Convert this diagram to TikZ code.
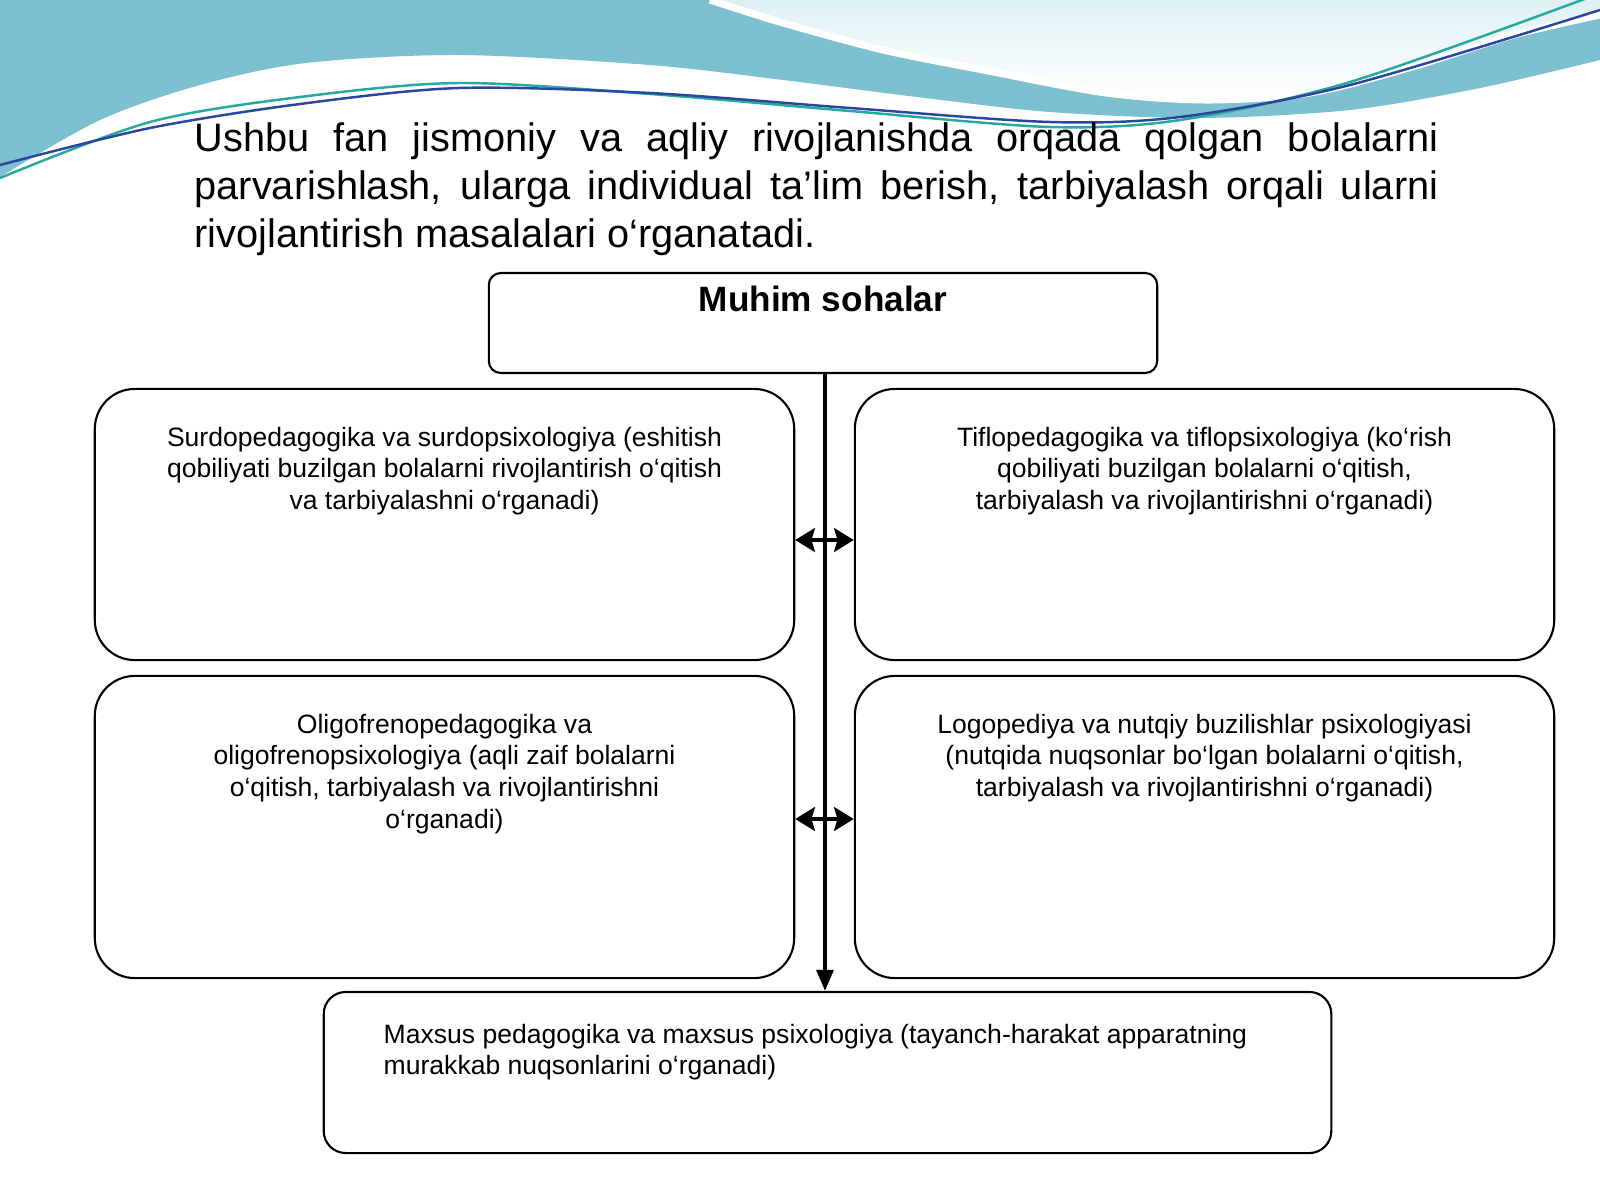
\documentclass[tikz,border=0pt]{standalone}
\usepackage{fontspec}
\setmainfont{Liberation Sans}
\usetikzlibrary{arrows.meta}

\definecolor{waveteal}{RGB}{125,192,207}
\definecolor{wavepale}{RGB}{222,240,245}
\definecolor{linegreen}{RGB}{38,170,158}
\definecolor{lineblue}{RGB}{42,70,158}

\begin{document}
\begin{tikzpicture}[x=0.01cm,y=-0.01cm,
  area box/.style={draw,rounded corners=0.4cm,line width=0.6pt,fill=white,
    inner xsep=0.1cm,inner ysep=0.38cm,font=\fontsize{7.55}{9}\selectfont},
  head box/.style={draw,rounded corners=0.12cm,line width=0.6pt,fill=white,
    inner xsep=0.1cm,inner ysep=0.13cm,font=\fontsize{10}{12}\selectfont\bfseries},
  foot box/.style={draw,rounded corners=0.22cm,line width=0.6pt,fill=white,
    inner xsep=0.6cm,inner ysep=0.32cm,font=\fontsize{7.55}{9}\selectfont},
  link/.style={line width=1pt,{Stealth[length=5.6pt,width=6.8pt,inset=1pt]}-{Stealth[length=5.6pt,width=6.8pt,inset=1pt]}}]

 \useasboundingbox (0,0) rectangle (1600,1200);
 \fill[white] (0,0) rectangle (1600,1200);

 % waves on top
 \shade[top color=wavepale,bottom color=white] plot[smooth] coordinates {(710,0) (783,23) (883,50) (983,70) (1106,93) (1208,100) (1310,93) (1412,67) (1514,35) (1600,15)} -- (1600,0) -- cycle;
 \fill[waveteal] (0,0) -- plot[smooth] coordinates {(710,0) (783,23) (883,50) (983,70) (1106,93) (1208,100) (1310,93) (1412,67) (1514,35) (1600,15)}
   -- plot[smooth] coordinates {(1600,60) (1480,88) (1350,110) (1200,118) (1050,112) (917,97) (783,80) (650,65) (459,55) (306,63) (200,85) (100,120) (0,177)} -- cycle;
 \draw[white,line width=2pt] plot[smooth] coordinates {(710,0) (783,23) (883,50) (983,70) (1106,93) (1208,100) (1310,93) (1412,67) (1514,35) (1600,15)};
 \draw[linegreen,line width=0.7pt] plot[smooth] coordinates {(0,178) (150,122) (300,97) (459,83) (650,94) (850,111) (1050,127) (1180,120) (1350,82) (1590,-3)};
 \draw[lineblue,line width=0.7pt] plot[smooth] coordinates {(0,165) (150,128) (300,104) (459,88) (650,93) (850,108) (1050,122) (1180,117) (1350,85) (1600,10)};

 % intro text
 \node[anchor=north west,inner sep=0pt,text width=12.43cm,align=justify,
   font=\fontsize{11.3}{13.66}\selectfont] (intro) at (194,122)
   {\hyphenpenalty=10000\hbadness=10000 Ushbu fan jismoniy va aqliy rivojlanishda orqada qolgan bolalarni\linebreak
    parvarishlash, ularga individual ta’lim berish, tarbiyalash orqali ularni\linebreak
    rivojlantirish masalalari o‘rganatadi.};

 % boxes
 \node[head box] (muhim) at (823,323) {\parbox[c][0.74cm][t]{6.48cm}{\centering Muhim sohalar}};
 \node[area box] (surdo) at (444.5,524.5) {\parbox[c][1.95cm][t]{6.79cm}{\centering
   Surdopedagogika va surdopsixologiya (eshitish\\
   qobiliyati buzilgan bolalarni rivojlantirish o‘qitish\\
   va tarbiyalashni o‘rganadi)}};
 \node[area box] (tiflo) at (1204.5,524.5) {\parbox[c][1.95cm][t]{6.79cm}{\centering
   Tiflopedagogika va tiflopsixologiya (ko‘rish\\
   qobiliyati buzilgan bolalarni o‘qitish,\\
   tarbiyalash va rivojlantirishni o‘rganadi)}};
 \node[area box] (oligo) at (444.5,827) {\parbox[c][2.26cm][t]{6.79cm}{\centering
   Oligofrenopedagogika va\\
   oligofrenopsixologiya (aqli zaif bolalarni\\
   o‘qitish, tarbiyalash va rivojlantirishni\\
   o‘rganadi)}};
 \node[area box] (logo) at (1204.5,827) {\parbox[c][2.26cm][t]{6.79cm}{\centering
   Logopediya va nutqiy buzilishlar psixologiyasi\\
   (nutqida nuqsonlar bo‘lgan bolalarni o‘qitish,\\
   tarbiyalash va rivojlantirishni o‘rganadi)}};
 \node[foot box] (maxsus) at (827.5,1072.5) {\parbox[c][0.97cm][t]{8.87cm}{\raggedright
   Maxsus pedagogika va maxsus psixologiya (tayanch-harakat apparatning\\
   murakkab nuqsonlarini o‘rganadi)}};

 % connectors
 \draw[line width=1.1pt,-{Triangle[length=6pt,width=4.8pt]}] ([xshift=0.02cm]muhim.south) -- ([xshift=0.02cm]muhim.south |- maxsus.north);
 \draw[link] ([yshift=-0.155cm]surdo.east) -- ([yshift=-0.155cm]tiflo.west);
 \draw[link] ([yshift=0.08cm]oligo.east) -- ([yshift=0.08cm]logo.west);

\end{tikzpicture}
\end{document}
